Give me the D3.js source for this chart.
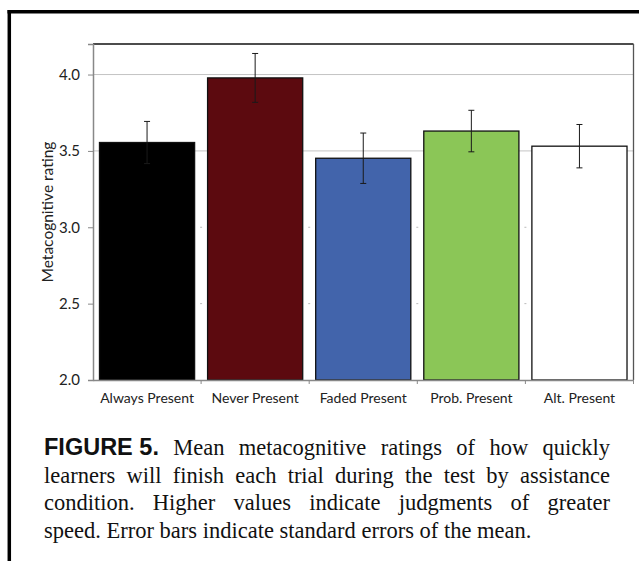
<!DOCTYPE html>
<html>
<head>
<meta charset="utf-8">
<script src="https://cdn.jsdelivr.net/npm/d3@7"></script>
<style>
  html, body { margin: 0; padding: 0; background: #fff; }
  svg { display: block; }
</style>
</head>
<body>
<svg id="chart" width="639" height="561"></svg>
<script>
// ---- data ----
const categories = ["Always Present", "Never Present", "Faded Present", "Prob. Present", "Alt. Present"];
const means = [3.555, 3.978, 3.452, 3.63, 3.531];
const stdErrors = [0.138, 0.16, 0.165, 0.136, 0.142];
const barColors = ["#000000", "#5c0a0f", "#4264ab", "#8bc657", "#ffffff"];
const yTicks = [2.0, 2.5, 3.0, 3.5, 4.0];
const yTitle = "Metacognitive rating";
const captionLead = "FIGURE 5.";
const captionLines = [
  "Mean metacognitive ratings of how quickly",
  "learners will finish each trial during the test by assistance",
  "condition. Higher values indicate judgments of greater",
  "speed. Error bars indicate standard errors of the mean."
];

(function () {
const svg = d3.select("#chart");
const pLeft = 93, pRight = 633.5, pTop = 44, pBottom = 380;
const chartFont = "Lato, 'Open Sans', sans-serif";

const x = d3.scaleBand().domain(categories).range([pLeft, pRight]).paddingInner(0.12).paddingOuter(0.06);
const y = d3.scaleLinear().domain([2.0, 4.2]).range([pBottom, pTop]);
const bounds = categories.slice(1).map(c => x(c) - x.step() * x.paddingInner() / 2);

// outer frame (top and left rules)
svg.append("line").attr("x1", 7.5).attr("x2", 639).attr("y1", 11.7).attr("y2", 11.7)
  .attr("stroke", "#000").attr("stroke-width", 3.5);
svg.append("line").attr("x1", 9.3).attr("x2", 9.3).attr("y1", 10).attr("y2", 561)
  .attr("stroke", "#000").attr("stroke-width", 3.5);

// gridlines (upper two visible, lower ones only faint dots)
svg.append("g").selectAll("line").data(yTicks.filter(d => d >= 3.5))
  .join("line")
  .attr("x1", pLeft).attr("x2", pRight)
  .attr("y1", d => y(d)).attr("y2", d => y(d))
  .attr("stroke", "#c4c4c4").attr("stroke-width", 1);
const dots = [];
yTicks.filter(d => d > 2 && d < 3.5).forEach(v => bounds.forEach(b => dots.push([b, v])));
svg.append("g").selectAll("line").data(dots).join("line")
  .attr("x1", d => d[0] - 1).attr("x2", d => d[0] + 1)
  .attr("y1", d => y(d[1])).attr("y2", d => y(d[1]))
  .attr("stroke", "#bbb").attr("stroke-width", 1);

// bars
const data = categories.map((c, i) => ({c, m: means[i], e: stdErrors[i], col: barColors[i]}));
svg.append("g").selectAll("rect").data(data).join("rect")
  .attr("x", d => x(d.c)).attr("width", x.bandwidth())
  .attr("y", d => y(d.m)).attr("height", d => y(2.0) - y(d.m))
  .attr("fill", d => d.col).attr("stroke", "#111").attr("stroke-width", 1.3);

// error bars
const eb = svg.append("g").selectAll("g").data(data).join("g");
eb.append("line")
  .attr("x1", d => x(d.c) + x.bandwidth() / 2).attr("x2", d => x(d.c) + x.bandwidth() / 2)
  .attr("y1", d => y(d.m + d.e)).attr("y2", d => y(d.m - d.e))
  .attr("stroke", "#1a1a1a").attr("stroke-width", 1);
eb.selectAll("line.cap").data(d => [[d, d.m + d.e], [d, d.m - d.e]]).join("line")
  .attr("class", "cap")
  .attr("x1", d => x(d[0].c) + x.bandwidth() / 2 - 3).attr("x2", d => x(d[0].c) + x.bandwidth() / 2 + 3)
  .attr("y1", d => y(d[1])).attr("y2", d => y(d[1]))
  .attr("stroke", "#1a1a1a").attr("stroke-width", 1);

// plot frame: top + right
svg.append("line").attr("x1", pLeft).attr("x2", pRight).attr("y1", pTop).attr("y2", pTop)
  .attr("stroke", "#111").attr("stroke-width", 1.5);
svg.append("line").attr("x1", pRight).attr("x2", pRight).attr("y1", pTop).attr("y2", pBottom)
  .attr("stroke", "#555").attr("stroke-width", 1.3);

// y axis
const yAxis = svg.append("g").attr("transform", `translate(${pLeft},0)`)
  .call(d3.axisLeft(y).tickValues(yTicks).tickFormat(d3.format(".1f")).tickSize(5).tickPadding(8));
yAxis.select(".domain").attr("stroke", "#888").attr("stroke-width", 1.5);
yAxis.selectAll(".tick line").attr("stroke", "#888");
yAxis.selectAll(".tick text").attr("font-family", chartFont).attr("font-size", 15).attr("fill", "#222");

// x axis
const xAxis = svg.append("g").attr("transform", `translate(0,${pBottom})`)
  .call(d3.axisBottom(x).tickSize(0).tickPadding(13));
xAxis.select(".domain").attr("stroke", "#888").attr("stroke-width", 1.5);
xAxis.selectAll(".tick text").attr("font-family", chartFont).attr("font-size", 14).attr("fill", "#222");
// boundary ticks between categories
svg.append("g").selectAll("line").data(bounds.concat([pRight])).join("line")
  .attr("x1", d => d).attr("x2", d => d).attr("y1", pBottom).attr("y2", pBottom + 4)
  .attr("stroke", "#888").attr("stroke-width", 1);

// y title
svg.append("text")
  .attr("transform", `translate(53,${(pTop + pBottom) / 2}) rotate(-90)`)
  .attr("text-anchor", "middle")
  .attr("font-family", chartFont).attr("font-size", 15.5).attr("fill", "#222")
  .text(yTitle);

// caption with justified lines
const capX0 = 44, capX1 = 610;
const baselines = [455, 482.5, 510, 537.7];
const serif = "'Liberation Serif', 'Times New Roman', serif";
const sans = "'Liberation Sans', Arial, sans-serif";
const serifSize = 22.5, boldSize = 23.5;
const cap = svg.append("g");
function measure(txt, fam, size, weight) {
  const t = cap.append("text").attr("font-family", fam).attr("font-size", size)
    .attr("font-weight", weight || "normal").text(txt);
  const w = t.node().getComputedTextLength();
  t.remove();
  return w;
}
const spaceW = measure("a a", serif, serifSize) - measure("aa", serif, serifSize);
captionLines.forEach((line, li) => {
  const words = line.split(" ");
  const items = [];
  if (li === 0) items.push({t: captionLead, fam: sans, size: boldSize, weight: "bold"});
  words.forEach(w => items.push({t: w, fam: serif, size: serifSize, weight: "normal"}));
  items.forEach(it => it.w = measure(it.t, it.fam, it.size, it.weight));
  const total = d3.sum(items, d => d.w);
  const gaps = items.length - 1;
  const justify = li < captionLines.length - 1;
  const gap = justify ? Math.max(spaceW, (capX1 - capX0 - total) / gaps) : spaceW;
  let cx = capX0;
  items.forEach(it => {
    cap.append("text").attr("x", cx).attr("y", baselines[li])
      .attr("font-family", it.fam).attr("font-size", it.size).attr("font-weight", it.weight)
      .attr("fill", "#111").text(it.t);
    cx += it.w + gap;
  });
});
})();
</script>
</body>
</html>
